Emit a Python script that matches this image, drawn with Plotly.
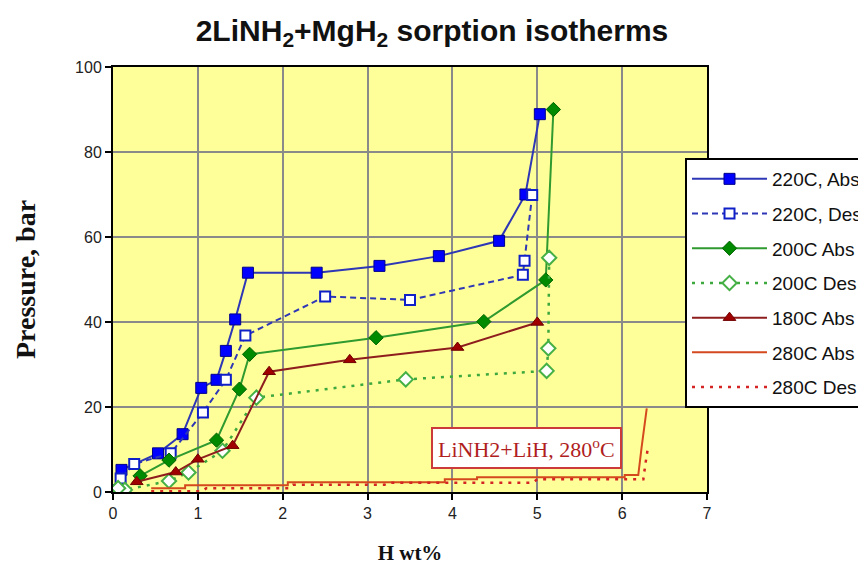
import plotly.graph_objects as go

# ---------------- data ----------------
abs220_x = [0.10, 0.53, 0.82, 1.04, 1.22, 1.33, 1.44, 1.59, 2.40, 3.14, 3.84, 4.55, 4.86, 5.03]
abs220_y = [5.2, 9.1, 13.6, 24.5, 26.4, 33.2, 40.6, 51.6, 51.6, 53.2, 55.5, 59.1, 70.0, 88.9]

des220_x = [4.94, 4.85, 4.83, 3.50, 2.50, 1.56, 1.33, 1.06, 0.68, 0.25, 0.09, 0.02]
des220_y = [69.9, 54.4, 51.1, 45.2, 46.0, 36.8, 26.4, 18.7, 9.1, 6.6, 3.2, 0.5]

abs200_x = [0.32, 0.66, 1.22, 1.49, 1.61, 3.10, 4.37, 5.10, 5.19]
abs200_y = [3.8, 7.5, 12.2, 24.2, 32.4, 36.3, 40.1, 49.9, 90.0]

des200_x = [5.14, 5.13, 5.11, 3.45, 1.69, 1.29, 0.89, 0.66, 0.14, 0.06]
des200_y = [55.1, 33.8, 28.5, 26.5, 22.2, 9.7, 4.6, 2.6, 0.5, 0.9]

abs180_x = [0.28, 0.74, 1.00, 1.41, 1.84, 2.79, 4.06, 5.00]
abs180_y = [2.4, 4.7, 7.7, 10.9, 28.3, 31.1, 34.0, 39.9]

abs280_x = [0.45, 0.85, 0.85, 2.06, 2.06, 3.91, 3.91, 4.29, 4.29, 6.03, 6.03, 6.19, 6.23, 6.29]
abs280_y = [0.9, 0.9, 1.6, 1.6, 2.3, 2.3, 3.0, 3.0, 3.5, 3.5, 4.0, 4.0, 10.6, 19.7]

des280_x = [0.45, 1.05, 1.10, 2.08, 2.12, 3.20, 3.25, 4.95, 5.00, 6.25, 6.27, 6.30]
des280_y = [0.2, 0.2, 0.9, 0.9, 1.7, 1.7, 2.2, 2.2, 3.0, 3.0, 6.0, 10.0]

series_names = ["220C, Abs", "220C, Des", "200C Abs", "200C Des", "180C Abs", "280C Abs", "280C Des"]

x_ticks = [0, 1, 2, 3, 4, 5, 6, 7]
y_ticks = [0, 20, 40, 60, 80, 100]

title_text = "2LiNH<sub>2</sub>+MgH<sub>2</sub> sorption isotherms"
note_text = "LiNH2+LiH, 280<sup>o</sup>C"

# ---------------- figure ----------------
fig = go.Figure()

def add(x, y, name, line, marker=None, mode="lines+markers"):
    fig.add_trace(go.Scatter(
        x=x, y=y, name=name, mode=mode, line=line,
        marker=marker if marker else {}, legendgroup=name,
    ))

add(abs220_x, abs220_y, series_names[0],
    dict(color="#2E37B5", width=2),
    dict(symbol="square", size=11, color="#0000FF", line=dict(color="#00008B", width=1)))
add(des220_x, des220_y, series_names[1],
    dict(color="#2E37B5", width=2, dash="6px,4px"),
    dict(symbol="square", size=10, color="#FFFFFF", line=dict(color="#1020C8", width=2)))
add(abs200_x, abs200_y, series_names[2],
    dict(color="#2F9A2F", width=2),
    dict(symbol="diamond", size=11, color="#008A00", line=dict(color="#006400", width=1)))
add(des200_x, des200_y, series_names[3],
    dict(color="#3DA83D", width=2.5, dash="3px,6px"),
    dict(symbol="diamond", size=11, color="#FFFFFF", line=dict(color="#45B045", width=2)))
add(abs180_x, abs180_y, series_names[4],
    dict(color="#8E1E1E", width=2),
    dict(symbol="triangle-up", size=11, color="#A00000", line=dict(color="#700000", width=1)))
add(abs280_x, abs280_y, series_names[5],
    dict(color="#D4491E", width=2), mode="lines")
add(des280_x, des280_y, series_names[6],
    dict(color="#D42424", width=2.5, dash="3px,6px"), mode="lines")

fig.add_annotation(
    x=4.87, y=10.3, xref="x", yref="y", text=note_text, showarrow=False,
    font=dict(family="Liberation Serif", size=22, color="#B01E1E"),
    bgcolor="#FFFFFF", bordercolor="#CC3A3A", borderwidth=2, borderpad=5,
)

# the page body adds an 8px offset; plot area should land at x 113..707, y 67..492 on screen
fig.update_layout(
    width=866, height=567,
    margin=dict(l=105, r=167, t=59, b=83, autoexpand=False),
    paper_bgcolor="#FFFFFF", plot_bgcolor="#FFFF99",
    title=dict(text="<b>" + title_text + "</b>", x=(432 - 8) / 866, xanchor="center",
               y=1 - 22 / 567, yanchor="middle",
               font=dict(family="Liberation Sans", size=30, color="#111111")),
    font=dict(family="Liberation Sans", size=15, color="#222222"),
    legend=dict(x=(685 - 113) / 594, y=1 - (158 - 67) / 425, xanchor="left", yanchor="top",
                bgcolor="#FFFFFF", bordercolor="#000000", borderwidth=2,
                font=dict(family="Liberation Sans", size=19, color="#111111"),
                tracegroupgap=7, traceorder="grouped", itemwidth=75),
    showlegend=True,
)

fig.update_xaxes(
    range=[0, 7], tickvals=x_ticks, ticktext=[str(v) for v in x_ticks],
    showgrid=True, gridcolor="#8A8A8A", gridwidth=2,
    showline=True, linecolor="#000000", linewidth=2, mirror=True,
    ticks="outside", ticklen=6, tickwidth=2, tickcolor="#000000",
    tickfont=dict(family="Liberation Sans", size=16, color="#222222"),
    zeroline=False,
    title=dict(text="<b>H wt%</b>", font=dict(family="Liberation Serif", size=21, color="#111111"),
               standoff=24),
)
fig.update_yaxes(
    range=[0, 100], tickvals=y_ticks, ticktext=[str(v) for v in y_ticks],
    showgrid=True, gridcolor="#8A8A8A", gridwidth=2,
    showline=True, linecolor="#000000", linewidth=2, mirror=True,
    ticks="outside", ticklen=6, tickwidth=2, tickcolor="#000000",
    tickfont=dict(family="Liberation Sans", size=16, color="#222222"),
    zeroline=False,
    title=dict(text="<b>Pressure, bar</b>", font=dict(family="Liberation Serif", size=28, color="#111111"),
               standoff=31),
)

fig.write_html("out.html")
